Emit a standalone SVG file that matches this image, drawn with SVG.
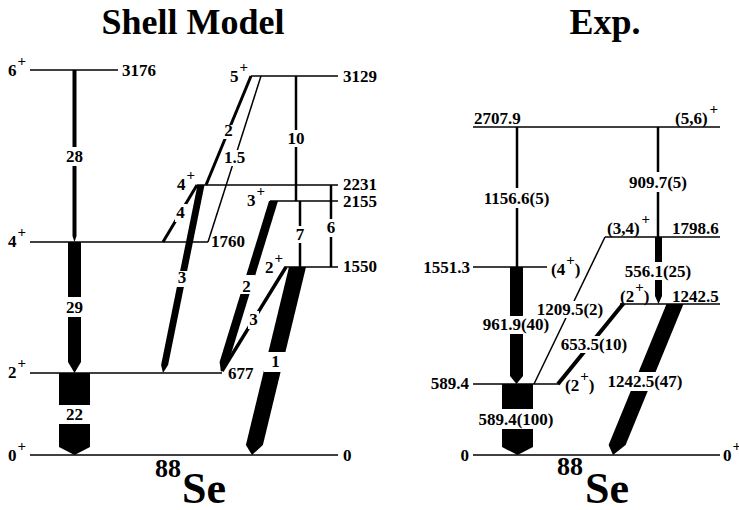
<svg xmlns="http://www.w3.org/2000/svg" width="739" height="510" viewBox="0 0 739 510">
<style>
text{font-family:"Liberation Serif","Times New Roman",serif;font-weight:bold;fill:#000}
.t{font-size:17px}
.c{font-size:17px;text-anchor:middle}
.e{font-size:17px;text-anchor:end}
.sup{font-size:15px}
.title{font-size:36px;text-anchor:middle}
.mass{font-size:26px}
.el{font-size:44px}
.lvl{stroke:#000;stroke-width:1.6;fill:none}
.ln{stroke:#000;fill:none}
.band{fill:#000;stroke:none}
.gap{fill:#fff;stroke:none}
</style>
<rect width="739" height="510" fill="#fff"/>
<text class="title" x="193" y="34">Shell Model</text>
<text class="title" x="605" y="34">Exp.</text>

<!-- Shell model levels -->
<g id="sm-6plus"><line class="lvl" x1="30" y1="70" x2="118" y2="70"/><text class="t" x="8" y="76">6<tspan class="sup" dx="1" dy="-10">+</tspan></text><text class="t" x="122" y="76">3176</text></g>
<g id="sm-4plus-1760"><line class="lvl" x1="30" y1="242" x2="208" y2="242"/><text class="t" x="8" y="247">4<tspan class="sup" dx="1" dy="-10">+</tspan></text><text class="t" x="211" y="247">1760</text></g>
<g id="sm-2plus-677"><line class="lvl" x1="30" y1="373" x2="222" y2="373"/><text class="t" x="8" y="378">2<tspan class="sup" dx="1" dy="-10">+</tspan></text><text class="t" x="228" y="379">677</text></g>
<g id="sm-0plus"><line class="lvl" x1="30" y1="455" x2="338" y2="455"/><text class="t" x="8" y="461">0<tspan class="sup" dx="1" dy="-10">+</tspan></text><text class="t" x="343" y="461">0</text></g>
<g id="sm-5plus"><line class="lvl" x1="251" y1="76" x2="338" y2="76"/><text class="t" x="230" y="82">5<tspan class="sup" dx="1" dy="-10">+</tspan></text><text class="t" x="343" y="82">3129</text></g>
<g id="sm-4plus-2231"><line class="lvl" x1="197" y1="185" x2="338" y2="185"/><text class="t" x="177" y="190">4<tspan class="sup" dx="1" dy="-10">+</tspan></text><text class="t" x="343" y="190">2231</text></g>
<g id="sm-3plus"><line class="lvl" x1="270" y1="201" x2="338" y2="201"/><text class="t" x="247" y="206">3<tspan class="sup" dx="1" dy="-10">+</tspan></text><text class="t" x="343" y="207">2155</text></g>
<g id="sm-2plus-1550"><line class="lvl" x1="285" y1="267" x2="338" y2="267"/><text class="t" x="265" y="273">2<tspan class="sup" dx="1" dy="-10">+</tspan></text><text class="t" x="343" y="272">1550</text></g>

<!-- Experimental levels -->
<g id="exp-2707"><line class="lvl" x1="473" y1="127" x2="720" y2="127"/><text class="t" x="474" y="124">2707.9</text><text class="t" x="675" y="124">(5,6)<tspan class="sup" dx="2" dy="-10">+</tspan></text></g>
<g id="exp-1798"><line class="lvl" x1="605" y1="237" x2="720" y2="237"/><text class="t" x="607" y="234">(3,4)<tspan class="sup" dx="2" dy="-10">+</tspan></text><text class="t" x="672" y="234">1798.6</text></g>
<g id="exp-1551"><line class="lvl" x1="473" y1="267" x2="547" y2="267"/><text class="e" x="470" y="273">1551.3</text><text class="t" x="551" y="275">(4<tspan class="sup" dx="1" dy="-10">+</tspan><tspan dy="10">)</tspan></text></g>
<g id="exp-1242"><line class="lvl" x1="620" y1="304" x2="720" y2="304"/><text class="t" x="620" y="302">(2<tspan class="sup" dx="1" dy="-10">+</tspan><tspan dy="10">)</tspan></text><text class="t" x="672" y="302">1242.5</text></g>
<g id="exp-589"><line class="lvl" x1="473" y1="384" x2="559" y2="384"/><text class="e" x="469" y="389">589.4</text><text class="t" x="565" y="391">(2<tspan class="sup" dx="1" dy="-10">+</tspan><tspan dy="10">)</tspan></text></g>
<g id="exp-0"><line class="lvl" x1="473" y1="455" x2="720" y2="455"/><text class="e" x="469" y="461">0</text><text class="t" x="723" y="461">0<tspan class="sup" dx="1" dy="-10">+</tspan></text></g>

<!-- Transitions -->
<g id="connectors">
<!-- shell model -->
<polygon class="band" points="72.5,70 76.5,70 76.5,236 74.5,242 72.5,236"/>
<rect class="gap" x="64" y="147" width="21" height="19"/><text class="c" x="74.5" y="162">28</text>
<polygon class="band" points="68,242 81,242 81,362 74.5,373 68,362"/>
<rect class="gap" x="64" y="297" width="21" height="20"/><text class="c" x="74.5" y="313">29</text>
<polygon class="band" points="59,373 90,373 90,447 74.5,455 59,447"/>
<rect class="gap" x="55" y="405" width="40" height="19"/><text class="c" x="74.5" y="420">22</text>

<line class="ln" stroke-width="3" x1="251" y1="76" x2="206" y2="185"/>
<rect class="gap" x="223" y="125" width="11" height="14"/><text class="c" x="228.5" y="136">2</text>
<line class="ln" stroke-width="1.5" x1="261" y1="76" x2="208" y2="242"/>
<rect class="gap" x="223" y="150" width="23" height="16"/><text class="c" x="234.5" y="163">1.5</text>
<line class="ln" stroke-width="2.5" x1="296" y1="76" x2="296" y2="201"/>
<rect class="gap" x="287" y="130" width="18" height="17"/><text class="c" x="296" y="144">10</text>

<line class="ln" stroke-width="3" x1="197" y1="185" x2="163" y2="242"/>
<rect class="gap" x="175" y="204" width="12" height="18"/><text class="c" x="180.5" y="218">4</text>
<polygon class="band" points="197.5,185 204.5,185 168.1,365 163,373 161.1,365"/>
<rect class="gap" x="176" y="271" width="12" height="16"/><text class="c" x="182" y="283">3</text>

<polygon class="band" points="269,201 278,201 228.6,362 221,372 219.6,362"/>
<rect class="gap" x="239" y="275" width="16" height="19"/><text class="c" x="246.5" y="292">2</text>
<line class="ln" stroke-width="3.5" x1="286" y1="267" x2="222" y2="371"/>
<rect class="gap" x="248" y="311" width="11" height="18"/><text class="c" x="253.5" y="325">3</text>

<line class="ln" stroke-width="2.5" x1="300" y1="201" x2="300" y2="267"/>
<rect class="gap" x="294" y="226" width="12" height="17"/><text class="c" x="300" y="240">7</text>
<line class="ln" stroke-width="2.5" x1="331" y1="185" x2="331" y2="267"/>
<rect class="gap" x="325" y="219" width="12" height="18"/><text class="c" x="331" y="233">6</text>

<polygon class="band" points="289,267 306,267 262.9,445 252,455 245.9,445"/>
<rect class="gap" x="264" y="352" width="22" height="20"/><text class="c" x="275.5" y="367">1</text>

<!-- experiment -->
<line class="ln" stroke-width="2.5" x1="517" y1="127" x2="517" y2="267"/>
<rect class="gap" x="481" y="188" width="71" height="20"/><text class="c" x="516.5" y="204">1156.6(5)</text>
<line class="ln" stroke-width="2.5" x1="658" y1="127" x2="658" y2="237"/>
<rect class="gap" x="626" y="172" width="64" height="20"/><text class="c" x="658" y="188">909.7(5)</text>
<polygon class="band" points="510,267 523,267 523,376 516.5,384 510,376"/>
<rect class="gap" x="480" y="316" width="72" height="18"/><text class="c" x="516" y="330">961.9(40)</text>
<polygon class="band" points="655,237 662,237 662,296 658.5,304 655,296"/>
<rect class="gap" x="622" y="262" width="72" height="18"/><text class="c" x="658" y="277">556.1(25)</text>
<line class="ln" stroke-width="1.5" x1="605" y1="237" x2="534" y2="384"/>
<rect class="gap" x="535" y="301" width="70" height="17"/><text class="c" x="570" y="315">1209.5(2)</text>
<line class="ln" stroke-width="4" x1="623" y1="304" x2="558" y2="384"/>
<rect class="gap" x="558" y="336" width="72" height="17"/><text class="c" x="594" y="350">653.5(10)</text>
<polygon class="band" points="666.5,304 683.5,304 625.6,445 613,455 608.6,445"/>
<rect class="gap" x="605" y="372" width="81" height="19"/><text class="c" x="645" y="387">1242.5(47)</text>
<polygon class="band" points="502,384 533,384 533,447 517.5,455 502,447"/>
<rect class="gap" x="476" y="409" width="80" height="20"/><text class="c" x="516" y="425">589.4(100)</text>
</g>

<text class="mass" x="155" y="477">88</text><text class="el" x="182" y="503">Se</text>
<text class="mass" x="557" y="475">88</text><text class="el" x="585" y="503">Se</text>
</svg>
